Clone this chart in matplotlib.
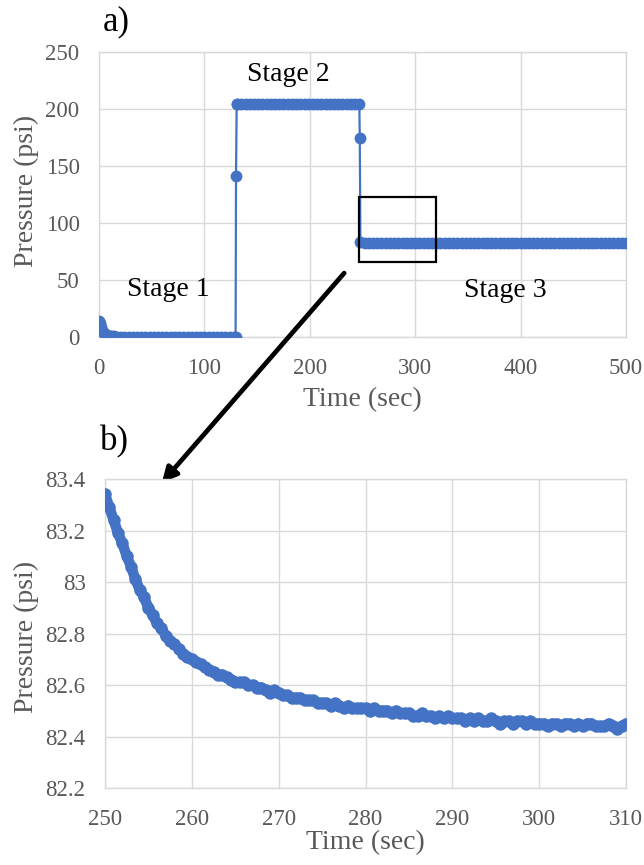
#Import bibliothèques
import numpy as np
import matplotlib
matplotlib.use('Agg')
from matplotlib import pyplot as plt
from matplotlib.patches import Rectangle

plt.rcParams['font.family'] = ['Liberation Serif', 'DejaVu Serif']

########## Données ##########

#a) courbe complète - étape 1 (décroissance initiale puis plateau)
decay_time = [0, 0.5, 1, 1.5, 2, 3, 4, 5, 6, 7, 8, 10, 12, 14, 16]
decay_pressure = [14.3, 12.0, 10.2, 8.6, 7.2, 5.3, 4.0, 3.1, 2.4, 1.9, 1.5, 1.0, 0.7, 0.5, 0.4]
stage1_pressure = [0.3, 0.3, 0.2, 0.3, 0.2, 0.2, 0.3, 0.2, 0.2, 0.2,
                   0.3, 0.2, 0.2, 0.2, 0.2, 0.3, 0.2, 0.2, 0.2, 0.2,
                   0.2, 0.2, 0.3, 0.2, 0.2, 0.2, 0.2, 0.2]

#montée vers l'étape 2
rise_time = [129.6, 130.0, 130.6]
rise_pressure = [0.3, 141.0, 204.0]

#étape 2
stage2_pressure = [204.1, 204.0, 204.0, 204.1, 204.0, 204.0, 204.1, 204.0, 204.0, 204.0,
                   204.1, 204.0, 204.0, 204.0, 204.1, 204.0, 204.0, 204.0, 204.1, 204.0,
                   204.0, 204.0, 204.1, 204.0, 204.0, 204.0, 204.1, 204.0, 204.0, 204.0]

#descente vers l'étape 3
drop_time = [247.4, 248.0]
drop_pressure = [175.0, 83.3]

#étape 3
stage3_pressure = [82.8, 82.6, 82.5, 82.5, 82.5, 82.4, 82.4, 82.4, 82.4, 82.4,
                   82.4, 82.4, 82.4, 82.4, 82.4, 82.4, 82.4, 82.4, 82.4, 82.4,
                   82.4, 82.4, 82.4, 82.4, 82.4, 82.4, 82.4, 82.4, 82.4, 82.4,
                   82.4, 82.4, 82.4, 82.4, 82.4, 82.4, 82.4, 82.4, 82.4, 82.4,
                   82.4, 82.4, 82.4, 82.4, 82.4, 82.2, 82.2, 82.2, 82.2, 82.2,
                   82.2, 82.2, 82.2, 82.2, 82.2, 82.2, 82.2, 82.2, 82.2, 82.2,
                   82.2, 82.2, 82.2]

#b) zoom sur 250-310 s (un point toutes les 0.5 s)
zoom_pressure = [83.34, 83.29, 83.24, 83.19, 83.15, 83.10, 83.06, 83.01, 82.97, 82.94,
                 82.90, 82.87, 82.84, 82.82, 82.79, 82.77, 82.76, 82.74, 82.72, 82.71,
                 82.70, 82.69, 82.68, 82.67, 82.66, 82.65, 82.64, 82.64, 82.63, 82.62,
                 82.61, 82.61, 82.61, 82.60, 82.60, 82.59, 82.59, 82.58, 82.57, 82.58,
                 82.57, 82.56, 82.56, 82.55, 82.55, 82.55, 82.54, 82.54, 82.54, 82.53,
                 82.53, 82.53, 82.52, 82.53, 82.52, 82.51, 82.52, 82.51, 82.51, 82.51,
                 82.51, 82.50, 82.51, 82.50, 82.50, 82.50, 82.49, 82.50, 82.49, 82.49,
                 82.49, 82.48, 82.48, 82.49, 82.48, 82.48, 82.47, 82.48, 82.47, 82.48,
                 82.47, 82.47, 82.47, 82.46, 82.47, 82.46, 82.47, 82.46, 82.46, 82.47,
                 82.46, 82.45, 82.46, 82.46, 82.45, 82.46, 82.46, 82.45, 82.46, 82.45,
                 82.45, 82.45, 82.44, 82.45, 82.45, 82.44, 82.45, 82.45, 82.44, 82.45,
                 82.44, 82.45, 82.45, 82.44, 82.44, 82.44, 82.45, 82.44, 82.43, 82.44,
                 82.45]

#Ticks
ticks_a_x = [0, 100, 200, 300, 400, 500]
ticks_a_y = [0, 50, 100, 150, 200, 250]
ticks_b_x = [250, 260, 270, 280, 290, 300, 310]
ticks_b_y = [82.2, 82.4, 82.6, 82.8, 83.0, 83.2, 83.4]
labels_b_y = ["82.2", "82.4", "82.6", "82.8", "83", "83.2", "83.4"]

#Assemblage des temps
time_a = np.concatenate([decay_time,
                         np.linspace(20, 128, len(stage1_pressure)),
                         rise_time,
                         np.linspace(131, 247, len(stage2_pressure)),
                         drop_time,
                         np.linspace(252, 500, len(stage3_pressure))])
pressure_a = np.concatenate([decay_pressure, stage1_pressure, rise_pressure,
                             stage2_pressure, drop_pressure, stage3_pressure])
time_b = np.linspace(250, 310, len(zoom_pressure))

blue = "#4472C4"
grey = "#595959"
grid = "#D9D9D9"
W, H = 644, 865

########## Graphique ##########

fig = plt.figure(figsize=(W / 100, H / 100), dpi=100)
ax_a = fig.add_axes([99 / W, 1 - 337 / H, 527 / W, 285 / H])
ax_b = fig.add_axes([105 / W, 1 - 788 / H, 521 / W, 309 / H])

def style_axes(ax):
    ax.grid(True, color=grid, linewidth=1)
    ax.set_axisbelow(True)
    for s in ax.spines.values():
        s.set_color(grid)
        s.set_linewidth(1)
    ax.tick_params(length=0, labelsize=16.5, labelcolor=grey)

#a)
ax_a.plot(time_a, pressure_a, '-o', color=blue, linewidth=1.6, markersize=8.5,
          markeredgewidth=0, zorder=3)
ax_a.set_xlim(0, 500)
ax_a.set_ylim(0, 250)
ax_a.set_xticks(ticks_a_x)
ax_a.set_yticks(ticks_a_y)
style_axes(ax_a)
ax_a.tick_params(axis='y', pad=14)
ax_a.tick_params(axis='x', pad=15)
ax_a.add_patch(Rectangle((247, 66), 73, 57, fill=False, edgecolor='black', linewidth=1.6, zorder=4))
ax_a.text(65.5, 42, "Stage 1", fontsize=20, ha='center', va='center')
ax_a.text(179.5, 230, "Stage 2", fontsize=20, ha='center', va='center')
ax_a.text(385.6, 41, "Stage 3", fontsize=20, ha='center', va='center')

#b)
ax_b.plot(time_b, zoom_pressure, '-o', color=blue, linewidth=7.5, markersize=9,
          markeredgewidth=0, solid_capstyle='round', zorder=3)
ax_b.set_xlim(250, 310)
ax_b.set_ylim(82.2, 83.4)
ax_b.set_xticks(ticks_b_x)
ax_b.set_yticks(ticks_b_y)
ax_b.set_yticklabels(labels_b_y)
style_axes(ax_b)
ax_b.tick_params(axis='y', pad=14)
ax_b.tick_params(axis='x', pad=15)

#Titres des axes et lettres
fig.text(26 / W, 1 - 191 / H, "Pressure (psi)", rotation=90, fontsize=20, color=grey, ha='center', va='center')
fig.text(362 / W, 1 - 400 / H, "Time (sec)", fontsize=20, color=grey, ha='center', va='center')
fig.text(26 / W, 1 - 637 / H, "Pressure (psi)", rotation=90, fontsize=20, color=grey, ha='center', va='center')
fig.text(365 / W, 1 - 843 / H, "Time (sec)", fontsize=20, color=grey, ha='center', va='center')
fig.text(116 / W, 1 - 22 / H, "a)", fontsize=25, ha='center', va='center')
fig.text(114 / W, 1 - 442 / H, "b)", fontsize=25, ha='center', va='center')

#Flèche du zoom
ax_a.annotate('', xy=(160 / W, 1 - 485 / H), xytext=(346 / W, 1 - 271 / H),
              xycoords='figure fraction', textcoords='figure fraction',
              arrowprops=dict(arrowstyle='-|>', color='black', lw=3.4, mutation_scale=22),
              annotation_clip=False)

fig.savefig("out.png", dpi=100)
